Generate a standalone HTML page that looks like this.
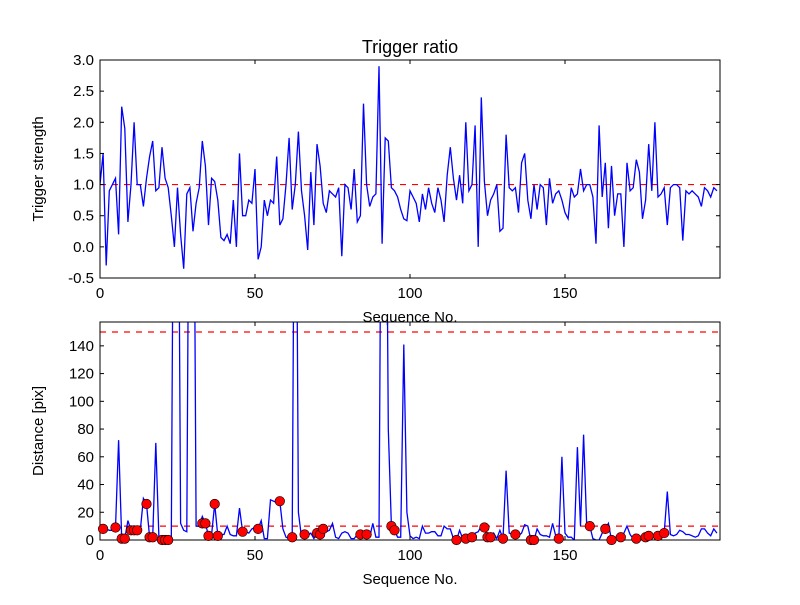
<!DOCTYPE html>
<html><head><meta charset="utf-8"><style>
body{margin:0;background:#fff}
svg text{font-family:"Liberation Sans","DejaVu Sans",sans-serif;fill:#000}
</style></head><body>
<svg id="c" width="800" height="600" xmlns="http://www.w3.org/2000/svg">
<rect width="800" height="600" fill="#fff"/>
<defs>
<clipPath id="clipTop"><rect x="100" y="60" width="620" height="218"/></clipPath>
<clipPath id="clipBot"><rect x="100" y="322" width="620" height="218"/></clipPath>
</defs>
<text x="410" y="53" font-size="18" text-anchor="middle">Trigger ratio</text>
<g id="top"></g><g id="bot"></g>
</svg>
<script>
const ratioValues=[1.0,1.5,-0.3,0.9,1.0,1.1,0.2,2.25,1.9,0.4,1.0,2.0,1.0,1.0,0.65,1.1,1.45,1.7,0.9,0.95,1.6,1.1,0.95,0.5,0.0,0.95,0.2,-0.35,0.85,0.95,0.25,0.7,0.95,1.7,1.3,0.35,1.1,1.05,0.75,0.15,0.1,0.2,0.05,0.75,0.0,1.5,0.5,0.5,0.75,0.7,1.25,-0.2,0.0,0.75,0.5,0.75,0.7,1.45,0.35,0.45,1.0,1.75,0.6,1.0,1.85,0.9,0.5,-0.05,1.2,0.35,1.65,1.3,0.7,0.55,0.9,0.85,0.8,0.95,-0.15,1.0,0.95,0.6,1.25,0.4,0.5,2.3,1.0,0.65,0.8,0.85,2.9,0.05,1.75,1.7,0.95,0.9,0.8,0.6,0.45,0.42,0.9,0.8,0.7,0.4,0.85,0.6,0.95,0.7,0.55,0.95,0.75,0.4,1.15,1.6,1.1,0.75,1.15,0.7,2.0,0.9,1.0,1.95,0.0,2.4,1.05,0.5,0.75,0.85,1.0,0.25,0.3,1.8,0.95,0.9,0.95,0.55,1.35,1.5,0.75,0.45,1.0,0.6,1.0,0.95,0.35,1.1,0.7,0.85,0.9,0.75,0.55,0.45,0.95,0.8,0.85,1.25,0.9,1.0,1.0,0.8,0.05,1.95,0.8,1.35,0.3,1.3,0.5,0.85,0.85,0.0,1.35,0.9,0.95,1.4,1.2,0.45,0.75,1.65,0.9,2.0,0.8,0.85,0.95,0.35,0.95,1.0,1.0,0.95,0.1,0.9,0.85,0.9,0.85,0.8,0.65,0.95,0.9,0.8,0.95,0.9];
const distValues=[8,10,8,7,7,9,72,1,1,14,7,7,7,7,30,26,2,2,70,2,0,0,0,0,400,400,12,7,6,400,400,10,10,17,12,3,4,26,3,4,4,10,4,3,3,23,6,6,5,8,9,8,14,1,1,29,28,27,28,8,2,1,2,400,20,2,4,3,5,1,5,4,8,6,7,12,2,1,5,6,5,1,1,4,4,5,4,2,12,2,2,400,400,80,10,7,2,2,141,20,3,1,2,1,10,5,5,6,6,3,3,10,8,8,1,0,7,1,1,2,2,5,6,10,9,2,2,5,1,7,1,50,5,4,4,3,5,11,10,0,0,8,4,3,3,2,12,3,1,60,5,2,2,0,67,10,76,10,10,1,0,0,5,8,12,0,2,2,2,5,10,4,1,1,1,2,2,3,3,2,3,4,5,35,4,3,4,7,6,4,4,3,2,3,8,8,5,3,8,5];
const dotIdx=[1,5,7,8,10,11,12,15,16,17,20,21,22,33,34,35,37,38,46,51,58,62,66,70,71,72,84,86,94,95,115,118,120,124,125,126,130,134,139,140,148,158,163,165,168,173,176,177,180,182];
const dotVal=[8,9,1,1,7,7,7,26,2,2,0,0,0,12,12,3,26,3,6,8,28,2,4,5,4,8,4,4,10,7,0,1,2,9,2,2,1,4,0,0,1,10,8,0,2,1,2,3,3,5];
const topTicks=[-0.5,0.0,0.5,1.0,1.5,2.0,2.5,3.0];
const botTicks=[0,20,40,60,80,100,120,140];
const xTicks=[0,50,100,150];
const topRef=[1.0];
const botRef=[10,150];

const NS="http://www.w3.org/2000/svg";
function el(tag,attrs,parent){const e=document.createElementNS(NS,tag);for(const k in attrs)e.setAttribute(k,attrs[k]);parent.appendChild(e);return e;}
const X0=100,X1=720;
const xs=v=>X0+(v-0)/(200-0)*(X1-X0);
function axes(g,y0,y1,vmin,vmax,ticks,fmt,ylabel,values,refs,clip,prefix){
  const ys=v=>y1-(v-vmin)/(vmax-vmin)*(y1-y0);
  refs.forEach(r=>{
    const l=el('line',{x1:X0,x2:X1,y1:ys(r),y2:ys(r),stroke:'#ff0000','stroke-width':1.2,'stroke-dasharray':'6,6'},g);
    
    
  });
  const pts=values.map((v,i)=>xs(i).toFixed(1)+','+ys(v).toFixed(1)).join(' ');
  const pl=el('polyline',{points:pts,fill:'none',stroke:'#0000ff','stroke-width':1.3,'clip-path':'url(#'+clip+')'},g);
  
  
  const fr=el('rect',{x:X0,y:y0,width:X1-X0,height:y1-y0,fill:'none',stroke:'#000','stroke-width':1},g);
  
  
  ticks.forEach(t=>{
    const y=ys(t);
    el('line',{x1:X0,x2:X0+4,y1:y,y2:y,stroke:'#000'},g);
    el('line',{x1:X1,x2:X1-4,y1:y,y2:y,stroke:'#000'},g);
    const tx=el('text',{x:X0-6,y:y+5,'font-size':15,'text-anchor':'end'},g);tx.textContent=fmt(t);
    
    
  });
  xTicks.forEach(t=>{
    const x=xs(t);
    el('line',{x1:x,x2:x,y1:y1,y2:y1-4,stroke:'#000'},g);
    el('line',{x1:x,x2:x,y1:y0,y2:y0+4,stroke:'#000'},g);
    const tx=el('text',{x:x,y:y1+20,'font-size':15,'text-anchor':'middle'},g);tx.textContent=t;
    
    
  });
  const xl=el('text',{x:410,y:y1+44,'font-size':15,'text-anchor':'middle'},g);xl.textContent='Sequence No.';
  
  
  const yc=(y0+y1)/2;
  const yl=el('text',{x:0,y:0,'font-size':15,'text-anchor':'middle',transform:'translate(43,'+yc+') rotate(-90)'},g);yl.textContent=ylabel;
  
  
  return ys;
}
const gt=document.getElementById('top'),gb=document.getElementById('bot');
axes(gt,60,278,-0.5,3.0,topTicks,t=>t.toFixed(1),'Trigger strength',ratioValues,topRef,'clipTop','ratio');
const ysb=axes(gb,322,540,0,157.2,botTicks,t=>String(t),'Distance [pix]',distValues,botRef,'clipBot','distance');
dotIdx.forEach((d,i)=>{
  const c=el('circle',{cx:xs(d),cy:ysb(dotVal[i]),r:4.8,fill:'#ff0000',stroke:'#000','stroke-width':0.6},gb);
  
  
});
</script>
</body></html>
